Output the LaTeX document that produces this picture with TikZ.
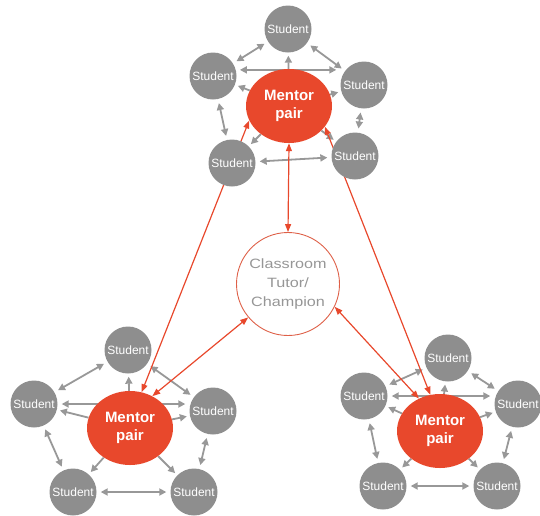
\documentclass[tikz,border=0pt]{standalone}
\usepackage{fontspec}
\setmainfont{Liberation Sans}
\newfontfamily\widesans[FakeStretch = 1.2]{Liberation Sans}
\usetikzlibrary{arrows.meta,backgrounds,shapes.geometric}
\definecolor{studentgray}{RGB}{142,142,142}
\definecolor{mentorred}{RGB}{232,72,44}
\definecolor{arrowgray}{RGB}{152,152,152}
\definecolor{tutorline}{RGB}{222,96,72}
\definecolor{tutortext}{RGB}{150,150,150}

\begin{document}
\begin{tikzpicture}[x = 1pt, y = -1pt,
    student/.style = {circle, fill = studentgray, text = white, minimum size = 47pt, inner sep = 0pt,
                      font = \fontsize{12}{14}\selectfont},
    mentor/.style = {ellipse, fill = mentorred, text = white, minimum width = 86pt, minimum height = 74pt,
                     inner sep = 0pt, align = center, font = \fontsize{15}{18}\selectfont\bfseries},
    tutor/.style = {circle, draw = tutorline, line width = 0.9pt, text = tutortext, minimum size = 103pt,
                    inner sep = 0pt, align = center, font = \widesans\fontsize{13.5}{19}\selectfont},
    garrow/.style = {draw = arrowgray, line width = 1.8pt, shorten <= 4pt, shorten >= 4pt,
                     {Triangle[length = 7pt, width = 7pt]}-{Triangle[length = 7pt, width = 7pt]}},
    gout/.style = {draw = arrowgray, line width = 1.8pt, shorten >= 3pt, -{Triangle[length = 7pt, width = 7pt]}},
    rarrow/.style = {draw = mentorred, line width = 1.2pt,
                     {Triangle[length = 8pt, width = 6pt]}-{Triangle[length = 8pt, width = 6pt]}}]
  \useasboundingbox (0, 0) rectangle (540, 515);

  % top group
  \node [mentor] (tm) at (289, 106){Mentor\\pair};
  \node [student] (t1) at (288, 29){Student};
  \node [student] (t2) at (364, 85){Student};
  \node [student] (t3) at (355, 156){Student};
  \node [student] (t4) at (232, 163){Student};
  \node [student] (t5) at (213, 76){Student};

  % bottom left group
  \node [mentor] (lm) at (130, 428){Mentor\\pair};
  \node [student] (l1) at (128, 350){Student};
  \node [student] (l2) at (213, 411){Student};
  \node [student] (l3) at (194, 492){Student};
  \node [student] (l4) at (73, 492){Student};
  \node [student] (l5) at (34, 404){Student};

  % bottom right group
  \node [mentor] (rm) at (440, 431){Mentor\\pair};
  \node [student] (r1) at (448, 358){Student};
  \node [student] (r2) at (518, 404){Student};
  \node [student] (r3) at (497, 486){Student};
  \node [student] (r4) at (383, 486){Student};
  \node [student] (r5) at (364, 396){Student};

  \node [tutor] (c) at (288, 284){Classroom\\Tutor/\\Champion};

  \begin{scope}[on background layer]
    \foreach \k in {t, l, r}{
      \draw [garrow] (\k1) -- (\k2);
      \draw [garrow] (\k2) -- (\k3);
      \draw [garrow] (\k3) -- (\k4);
      \draw [garrow] (\k4) -- (\k5);
      \draw [garrow] (\k5) -- (\k1);
      \foreach \i in {1, ..., 5}
        \draw [gout] (\k m) -- (\k\i);
    }
    \draw [garrow] (t5.15) -- (t5.15 -| t2.west);
    \draw [garrow] (l5.east) -- (l5.east -| l2.west);
    \draw [garrow] (r5.east) -- (r5.east -| r2.west);

    \draw [rarrow] (tm.south) -- (c.north);
    \draw [rarrow] (tm.200) -- (lm.72);
    \draw [rarrow] (tm.330) -- (rm.105);
    \draw [rarrow] (c.220) -- (lm.55);
    \draw [rarrow] (c.334) -- (rm.123);
  \end{scope}
\end{tikzpicture}
\end{document}
